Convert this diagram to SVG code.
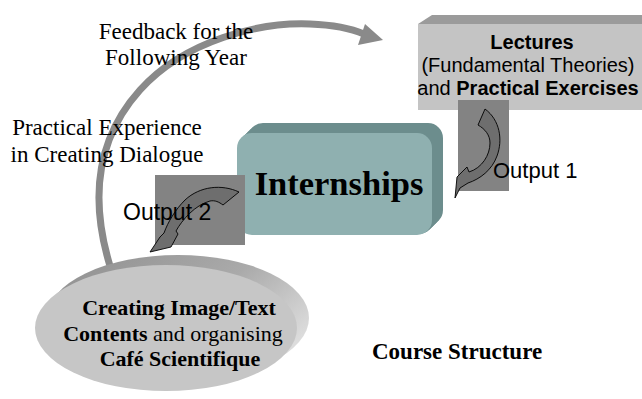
<svg xmlns="http://www.w3.org/2000/svg" xmlns:xlink="http://www.w3.org/1999/xlink" width="642" height="399" viewBox="0 0 642 399">
<style>
.serif{font-family:"Liberation Serif","Times New Roman",serif;fill:#000}
.sans{font-family:"Liberation Sans",Arial,sans-serif;fill:#000}
.b{font-weight:bold}
.mid{text-anchor:middle}
.sq{fill:#838383}
.curl{fill:#6e6e6e;stroke:#000;stroke-width:0.9;stroke-linejoin:round}
</style>
<defs>
<linearGradient id="intSide" gradientUnits="userSpaceOnUse" x1="270" y1="270" x2="290" y2="290">
<stop offset="0" stop-color="#6c8d8d"/>
<stop offset="1" stop-color="#aacaca"/>
</linearGradient>
<linearGradient id="discRim" x1="0" y1="0" x2="1" y2="0.6">
<stop offset="0" stop-color="#8e8e8e"/>
<stop offset="0.6" stop-color="#aaaaaa"/>
<stop offset="1" stop-color="#dcdcdc"/>
</linearGradient>
<rect id="ib" width="195" height="102" rx="15" ry="15"/>
</defs>
<rect width="642" height="399" fill="#fff"/>

<g id="connectors">
<path d="M110,266 C90,200 95,140 140,90 C185,40 260,22 310,24 C335,25 350,28 364,34" fill="none" stroke="#8a8a8a" stroke-width="7"/>
<polygon points="383,40 365,24 358,45" fill="#8a8a8a"/>
</g>

<g id="lectures">
<polygon points="418,24 432,15 642,15 642,24" fill="#9b9b9b"/>
<rect x="418" y="24" width="224" height="86" fill="#c4c4c4"/>
<text class="sans b mid" x="532" y="49" font-size="20">Lectures</text>
<text class="sans mid" x="528" y="72" font-size="20">(Fundamental Theories)</text>
<text class="sans mid" x="528" y="95" font-size="20">and <tspan class="b">Practical Exercises</tspan></text>
</g>

<g id="internships">
<g fill="url(#intSide)">
<use xlink:href="#ib" x="248" y="123"/>
<use xlink:href="#ib" x="246.5" y="124.5"/>
<use xlink:href="#ib" x="245" y="126"/>
<use xlink:href="#ib" x="243.5" y="127.5"/>
<use xlink:href="#ib" x="242" y="129"/>
<use xlink:href="#ib" x="240.5" y="130.5"/>
<use xlink:href="#ib" x="239" y="132"/>
</g>
<rect x="237" y="133" width="195" height="102" rx="15" ry="15" fill="#8fb0b0"/>
<text class="serif b mid" x="339" y="195" font-size="34.5">Internships</text>
</g>

<g id="creating">
<ellipse cx="178" cy="318" rx="131" ry="63" fill="url(#discRim)"/>
<ellipse cx="166" cy="328" rx="131" ry="63" fill="#c6c6c6"/>
<text class="serif b mid" x="179" y="315" font-size="22">Creating Image/Text</text>
<text class="serif mid" x="173" y="341" font-size="22"><tspan class="b">Contents</tspan> and organising</text>
<text class="serif b mid" x="180" y="366" font-size="22">Café Scientifique</text>
</g>

<g id="output1">
<rect class="sq" x="458" y="100" width="51" height="91"/>
<path class="curl" d="M485,109 C500,120 503,140 497,156 C492,170 480,179 468,183 L460,188 L455,198 L457,177 L467,167 L469,172 C482,168 490,155 490,143 C490,135 485,129 478,125 Z"/>
<text class="sans" x="493" y="178" font-size="22">Output 1</text>
</g>

<g id="output2">
<rect class="sq" x="155" y="175" width="90" height="70"/>
<path class="curl" d="M239,192 C222,184 200,186 185,200 C175,210 168,222 164,233 L160,237 L150,252 L171,247 L178,234 L176,231 C182,220 195,205 210,201 C215,200 219,202 223,205 Z"/>
<text class="sans" x="123" y="220" font-size="23">Output 2</text>
</g>

<g id="labels">
<text class="serif mid" x="176" y="39" font-size="23">Feedback for the</text>
<text class="serif mid" x="176" y="65" font-size="23">Following Year</text>
<text class="serif mid" x="107" y="135" font-size="23">Practical Experience</text>
<text class="serif mid" x="107" y="162" font-size="23">in Creating Dialogue</text>
<text class="serif b" x="372" y="359" font-size="23">Course Structure</text>
</g>
</svg>
